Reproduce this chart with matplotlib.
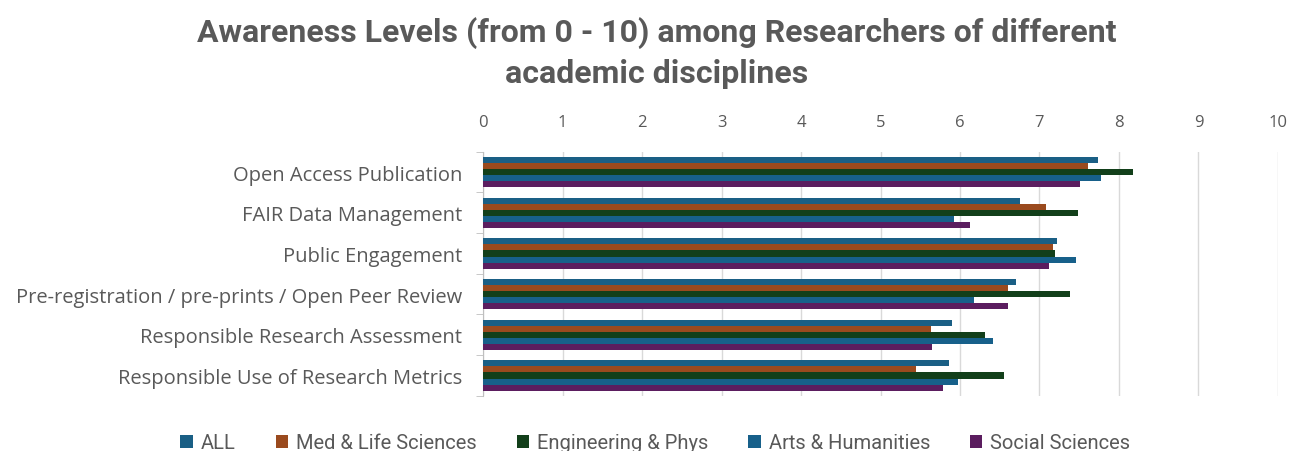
import numpy as np
import matplotlib
matplotlib.use("Agg")
import matplotlib.pyplot as plt
from matplotlib.patches import Patch

categories = [
    "Open Access Publication",
    "FAIR Data Management",
    "Public Engagement",
    "Pre-registration / pre-prints / Open Peer Review",
    "Responsible Research Assessment",
    "Responsible Use of Research Metrics",
]
series_names = ["ALL", "Med & Life Sciences", "Engineering & Phys",
                "Arts & Humanities", "Social Sciences"]
all_vals = [7.74, 6.76, 7.22, 6.70, 5.90, 5.86]
med_vals = [7.61, 7.08, 7.17, 6.60, 5.63, 5.45]
eng_vals = [8.17, 7.48, 7.20, 7.38, 6.32, 6.55]
arts_vals = [7.77, 5.92, 7.46, 6.17, 6.42, 5.97]
soc_vals = [7.51, 6.13, 7.12, 6.60, 5.65, 5.78]
colors = ["#1A5F85", "#9A4A1E", "#123F1A", "#17608A", "#5B1D5F"]

series = [all_vals, med_vals, eng_vals, arts_vals, soc_vals]
txt = "#595959"

fig = plt.figure(figsize=(13.03, 4.52), dpi=100)
ax = fig.add_axes([0.3707, 0.122, 0.6101, 0.54])

n = len(series)
group_h = 0.75
bar_h = group_h / n
y = np.arange(len(categories))
for i, (vals, c) in enumerate(zip(series, colors)):
    offs = -group_h / 2 + bar_h * (i + 0.5)
    ax.barh(y + offs, vals, height=bar_h, color=c, zorder=3)

ax.set_ylim(len(categories) - 0.5, -0.5)
ax.set_xlim(0, 10)
ax.set_xticks(range(0, 11))
ax.xaxis.tick_top()
ax.tick_params(axis="x", length=0, labelsize=12, labelcolor=txt, pad=16)
ax.set_yticks(y)
ax.set_yticklabels(categories, fontsize=14.5, color=txt)
ax.tick_params(axis="y", length=0, pad=15)
ax.set_yticks(np.arange(-0.5, len(categories)), minor=True)
ax.tick_params(axis="y", which="minor", length=5, color="#bfbfbf")
ax.grid(axis="x", color="#d9d9d9", linewidth=1, zorder=0)
for s in ["top", "right", "bottom"]:
    ax.spines[s].set_visible(False)
ax.spines["left"].set_color("#bfbfbf")

for lab in ax.get_xticklabels() + ax.get_yticklabels():
    lab.set_family(["Open Sans", "DejaVu Sans"])

fig.text(0.504, 0.883, "Awareness Levels (from 0 - 10) among Researchers of different\nacademic disciplines",
         ha="center", va="center", fontsize=23, fontweight="bold", color=txt,
         family=["Roboto", "DejaVu Sans"], linespacing=1.42)

handles = [Patch(facecolor=c, label=s) for s, c in zip(series_names, colors)]
fig.legend(handles=handles, loc="center", bbox_to_anchor=(0.503, 0.018), ncol=5,
           frameon=False, handlelength=0.6, handleheight=0.6, columnspacing=2.0,
           handletextpad=0.4, prop={"family": ["Roboto", "DejaVu Sans"], "size": 14.5},
           labelcolor=txt)

fig.savefig("out.png", dpi=100)
